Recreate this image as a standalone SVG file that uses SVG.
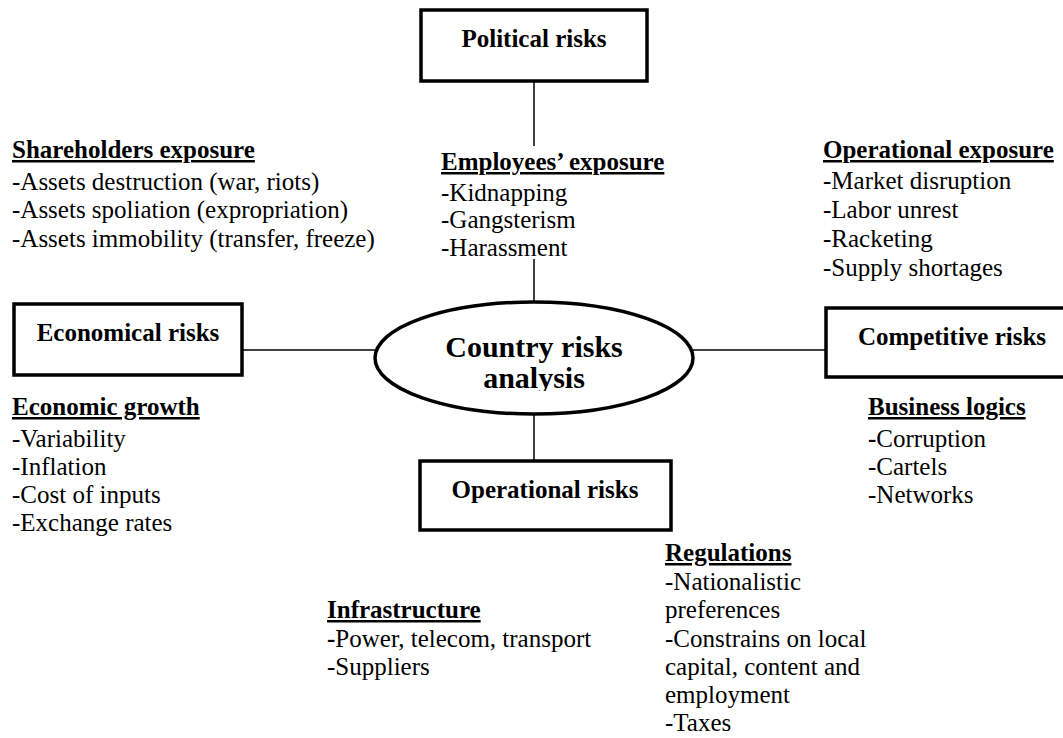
<svg xmlns="http://www.w3.org/2000/svg" width="1063" height="738" viewBox="0 0 1063 738">
<style>
  .box { fill: #ffffff; stroke: #000000; stroke-width: 3.5; }
  .conn { stroke: #000000; stroke-width: 1.5; fill: none; }
  .lbl { font-family: "Liberation Serif", "Times New Roman", serif; font-size: 25px; font-weight: bold; fill: #000; text-anchor: middle; }
  .big { font-family: "Liberation Serif", "Times New Roman", serif; font-size: 30px; font-weight: bold; fill: #000; text-anchor: middle; }
  .txt { font-family: "Liberation Serif", "Times New Roman", serif; font-size: 25px; fill: #000; }
  .hd { font-weight: bold; text-decoration: underline; }
</style>
<defs>
  <clipPath id="ellclip"><rect x="370" y="300" width="330" height="91"/></clipPath>
</defs>
<rect x="0" y="0" width="1063" height="738" fill="#ffffff"/>

<g id="connectors">
  <line class="conn" x1="534" y1="81" x2="534" y2="146"/>
  <line class="conn" x1="534" y1="259" x2="534" y2="302"/>
  <line class="conn" x1="534" y1="414" x2="534" y2="461"/>
  <line class="conn" x1="242" y1="350" x2="375" y2="350"/>
  <line class="conn" x1="693" y1="350" x2="826" y2="350"/>
</g>

<g id="political">
  <rect class="box" x="421" y="10" width="226" height="71"/>
  <text class="lbl" x="534" y="47">Political risks</text>
</g>

<g id="economical">
  <rect class="box" x="14" y="304" width="228" height="71"/>
  <text class="lbl" x="128" y="341">Economical risks</text>
</g>

<g id="competitive">
  <rect class="box" x="826" y="308" width="252" height="69"/>
  <text class="lbl" x="952" y="345">Competitive risks</text>
</g>

<g id="operational">
  <rect class="box" x="420" y="461" width="251" height="69"/>
  <text class="lbl" x="545" y="498">Operational risks</text>
</g>

<g id="center">
  <ellipse cx="534" cy="358" rx="159" ry="56" fill="#ffffff" stroke="#000000" stroke-width="3.5"/>
  <g clip-path="url(#ellclip)">
    <text class="big" x="534" y="357">Country risks</text>
    <text class="big" x="534" y="388">analysis</text>
  </g>
</g>

<g id="shareholders-exposure" class="txt">
  <text x="12" y="158" class="hd">Shareholders exposure</text>
  <text x="12" y="190">-Assets destruction (war, riots)</text>
  <text x="12" y="218">-Assets spoliation (expropriation)</text>
  <text x="12" y="247">-Assets immobility (transfer, freeze)</text>
</g>

<g id="employees-exposure" class="txt">
  <text x="441" y="170" class="hd">Employees’ exposure</text>
  <text x="441" y="201">-Kidnapping</text>
  <text x="441" y="228">-Gangsterism</text>
  <text x="441" y="256">-Harassment</text>
</g>

<g id="operational-exposure" class="txt">
  <text x="823" y="158" class="hd">Operational exposure</text>
  <text x="823" y="189">-Market disruption</text>
  <text x="823" y="218">-Labor unrest</text>
  <text x="823" y="247">-Racketing</text>
  <text x="823" y="276">-Supply shortages</text>
</g>

<g id="economic-growth" class="txt">
  <text x="12" y="415" class="hd">Economic growth</text>
  <text x="12" y="447">-Variability</text>
  <text x="12" y="475">-Inflation</text>
  <text x="12" y="503">-Cost of inputs</text>
  <text x="12" y="531">-Exchange rates</text>
</g>

<g id="business-logics" class="txt">
  <text x="868" y="415" class="hd">Business logics</text>
  <text x="868" y="447"><tspan font-weight="bold">-</tspan>Corruption</text>
  <text x="868" y="475">-Cartels</text>
  <text x="868" y="503">-Networks</text>
</g>

<g id="infrastructure" class="txt">
  <text x="327" y="618" class="hd">Infrastructure</text>
  <text x="327" y="647"><tspan font-weight="bold">-</tspan>Power, telecom, transport</text>
  <text x="327" y="675">-Suppliers</text>
</g>

<g id="regulations" class="txt">
  <text x="665" y="561" class="hd">Regulations</text>
  <text x="665" y="590">-Nationalistic</text>
  <text x="665" y="618">preferences</text>
  <text x="665" y="647">-Constrains on local</text>
  <text x="665" y="675">capital, content and</text>
  <text x="665" y="703">employment</text>
  <text x="665" y="731">-Taxes</text>
</g>
</svg>
